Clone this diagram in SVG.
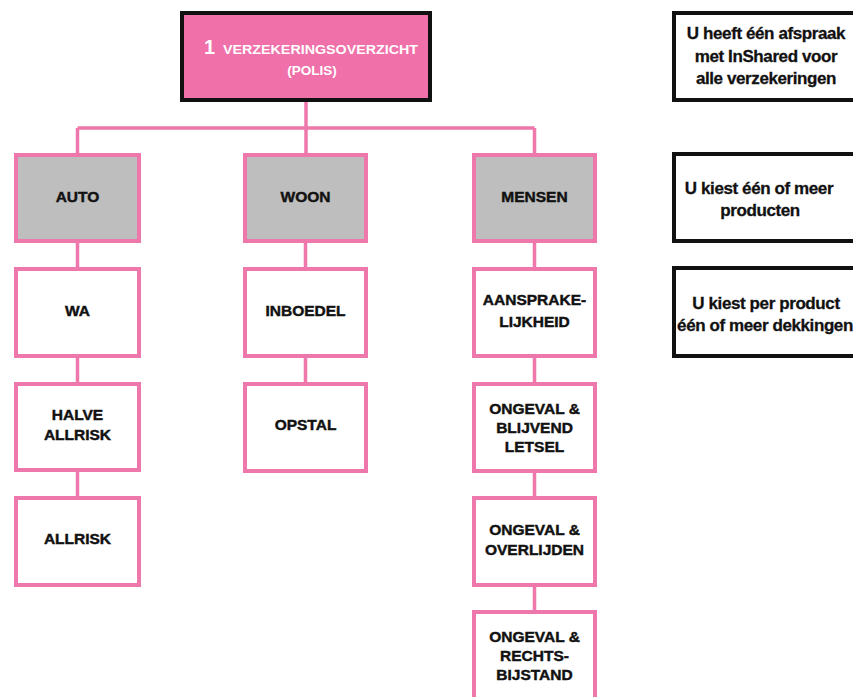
<svg xmlns="http://www.w3.org/2000/svg" width="853" height="697" viewBox="0 0 853 697">
<style>
.pk{fill:#ffffff;stroke:#ee78ac;stroke-width:4}
.gr{fill:#bebebe;stroke:#ee78ac;stroke-width:4}
.bk{fill:#ffffff;stroke:#111111;stroke-width:4}
.ln{stroke:#ee78ac;stroke-width:3.5;fill:none}
.t{font-family:"Liberation Sans",Arial,sans-serif;font-weight:bold;font-size:15.5px;fill:#111111;stroke:#111111;stroke-width:0.45px;text-anchor:middle}
.r{font-family:"Liberation Sans",Arial,sans-serif;font-weight:bold;font-size:17px;fill:#111111;stroke:#111111;stroke-width:0.3px;text-anchor:middle;letter-spacing:-0.4px}
.w{font-family:"Liberation Sans",Arial,sans-serif;font-weight:bold;font-size:13.5px;fill:#ffffff}
</style>
<rect width="853" height="697" fill="#ffffff"/>
<g id="connectors">
<path class="ln" d="M306 102 V153 M77.5 128 H534.5 M77.5 128 V496 M305.5 153 V382 M534.5 128 V697"/>
</g>
<g id="polis">
<rect x="182" y="13" width="248" height="87" fill="#f070a9" stroke="#111111" stroke-width="4"/>
<text class="w" x="204" y="54"><tspan font-size="20">1</tspan><tspan x="223" textLength="195" lengthAdjust="spacingAndGlyphs">VERZEKERINGSOVERZICHT</tspan></text>
<text class="w" x="312" y="75" text-anchor="middle">(POLIS)</text>
</g>
<g id="auto"><rect class="gr" x="16" y="155" width="123" height="86"/><text class="t" x="77.5" y="202">AUTO</text></g>
<g id="wa"><rect class="pk" x="16" y="269" width="123" height="87"/><text class="t" x="77.5" y="316">WA</text></g>
<g id="halve-allrisk"><rect class="pk" x="16" y="384" width="123" height="86"/><text class="t" x="77.5" y="420">HALVE</text><text class="t" x="77.5" y="440">ALLRISK</text></g>
<g id="allrisk"><rect class="pk" x="16" y="498" width="123" height="87"/><text class="t" x="77.5" y="544">ALLRISK</text></g>
<g id="woon"><rect class="gr" x="245" y="155" width="121" height="86"/><text class="t" x="305.5" y="202">WOON</text></g>
<g id="inboedel"><rect class="pk" x="245" y="269" width="121" height="87"/><text class="t" x="305.5" y="316">INBOEDEL</text></g>
<g id="opstal"><rect class="pk" x="245" y="384" width="121" height="87"/><text class="t" x="305.5" y="430">OPSTAL</text></g>
<g id="mensen"><rect class="gr" x="474" y="155" width="121" height="86"/><text class="t" x="534.5" y="202">MENSEN</text></g>
<g id="aansprakelijkheid"><rect class="pk" x="474" y="269" width="121" height="87"/><text class="t" x="534.5" y="305">AANSPRAKE-</text><text class="t" x="534.5" y="327">LIJKHEID</text></g>
<g id="blijvend-letsel"><rect class="pk" x="474" y="384" width="121" height="87"/><text class="t" x="534.5" y="414">ONGEVAL &amp;</text><text class="t" x="534.5" y="433">BLIJVEND</text><text class="t" x="534.5" y="452">LETSEL</text></g>
<g id="overlijden"><rect class="pk" x="474" y="498" width="121" height="87"/><text class="t" x="534.5" y="535">ONGEVAL &amp;</text><text class="t" x="534.5" y="555">OVERLIJDEN</text></g>
<g id="rechtsbijstand"><rect class="pk" x="474" y="612" width="121" height="100"/><text class="t" x="534.5" y="642">ONGEVAL &amp;</text><text class="t" x="534.5" y="661">RECHTS-</text><text class="t" x="534.5" y="680">BIJSTAND</text></g>
<g id="note1"><rect class="bk" x="674" y="13" width="200" height="87"/><text class="r" x="766" y="39">U heeft één afspraak</text><text class="r" x="766" y="62">met InShared voor</text><text class="r" x="766" y="84">alle verzekeringen</text></g>
<g id="note2"><rect class="bk" x="674" y="154" width="200" height="87"/><text class="r" x="759" y="194">U kiest één of meer</text><text class="r" x="760" y="216">producten</text></g>
<g id="note3"><rect class="bk" x="674" y="268" width="200" height="88"/><text class="r" x="766" y="309">U kiest per product</text><text class="r" x="765" y="331" letter-spacing="-0.6">één of meer dekkingen</text></g>
</svg>
